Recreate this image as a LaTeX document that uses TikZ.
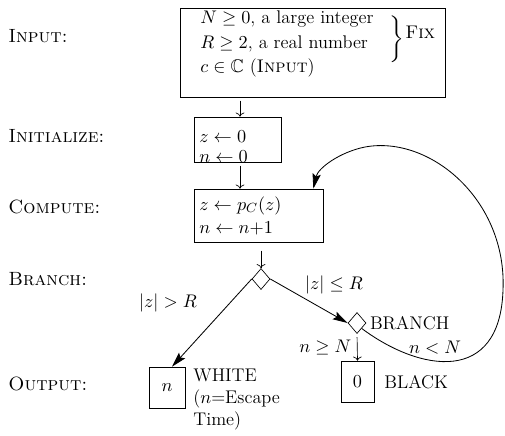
\documentclass[tikz,border=0pt]{standalone}
\usepackage{amssymb}
\usetikzlibrary{arrows.meta,shapes.geometric}

\begin{document}
\begin{tikzpicture}[
  x=0.6pt, y=-0.6pt,
  every node/.style={font=\fontsize{11}{14.5}\selectfont},
  stage/.style={anchor=base west, inner sep=0pt, font=\fontsize{11.5}{14}\selectfont},
  line/.style={anchor=base west, inner sep=0pt},
  box/.style={draw=black, rectangle, inner sep=0pt},
  test/.style={draw=black, diamond, minimum width=10.8pt, minimum height=12.6pt, inner sep=0pt},
  flow/.style={-{Stealth[length=9pt,width=5pt,inset=1.5pt]}, line width=0.5pt},
  down/.style={->, shorten <=2pt}
]
  \useasboundingbox (0,0) rectangle (505,435);

  % stage names
  \node[stage] (lin)   at (8, 42)  {\textsc{Input:}};
  \node[stage] (linit) at (8,142)  {\textsc{Initialize:}};
  \node[stage] (lcomp) at (8,213)  {\textsc{Compute:}};
  \node[stage] (lbr)   at (8,285)  {\textsc{Branch:}};
  \node[stage] (lout)  at (8,390)  {\textsc{Output:}};

  % input box
  \node[box, minimum width=159pt, minimum height=53.4pt] (input) at (312.5,52.5) {};
  \node[line] (fixn) at (200,23) {$N\geq 0$, a large integer};
  \node[line] (fixr) at (200,48) {$R\geq 2$, a real number};
  \node[line] (cin)  at (200,72) {$c\in\mathbb{C}$ (\textsc{Input})};
  \node[inner sep=0pt, yscale=0.85, transform shape] (brace) at (397,39) {$\Bigg\}$};
  \node[line] (fix)  at (405,38) {\textsc{Fix}};

  % iteration
  \node[box, minimum width=52.2pt, minimum height=27pt] (init) at (237.5,139.5) {};
  \node[line] (zinit) at (199,142) {$z\leftarrow 0$};
  \node[line] (ninit) at (199,162) {$n\leftarrow 0$};
  \node[box, minimum width=77.4pt, minimum height=31.8pt] (comp) at (258.5,215.5) {};
  \node[line] (zcomp) at (199,210) {$z\leftarrow p_C(z)$};
  \node[line] (ncomp) at (199,233) {$n\leftarrow n{+}1$};
  \node[test] (d1) at (261,279) {};
  \node[test] (d2) at (357,323) {};
  \node[anchor=west, inner sep=2pt] (br) at (d2.east) {BRANCH};

  % outputs
  \node[box, minimum width=21.6pt, minimum height=24.6pt] (white) at (167,387.5) {$n$};
  \node[box, minimum width=19.8pt, minimum height=24.6pt] (black) at (357.5,381.5) {$0$};
  \node[anchor=north west, align=left, inner sep=0pt, font=\fontsize{11}{13.2}\selectfont]
    (whitetxt) at (193,369) {WHITE\\($n$=Escape\\Time)};
  \node[anchor=west, inner sep=0pt] (blacktxt) at (384,382) {BLACK};

  % labels
  \node (gt) at (168,303) {$|z|>R$};
  \node (le) at (334,285) {$|z|\leq R$};
  \node (lt) at (435,348) {$n<N$};

  \draw[down] (input.south -| 240,0) -- (init.north -| 240,0);
  \draw[down] (init.south -| 240,0) -- (comp.north -| 240,0);
  \draw[down, shorten <=5pt] (comp.south -| d1.north) -- (d1.north);
  \draw[flow] (d1.west) -- ([xshift=3pt]white.north);
  \draw[flow] (d1.east) -- (d2.west);
  \draw[down] (d2.south) -- (black.north) node[midway, left] {$n\geq N$};
  \draw[flow] (d2.south east) .. controls (420,372) and (500,385) .. (503,290)
    .. controls (507,200) and (430,135) .. (365,147)
    .. controls (340,152) and (318,168) .. ([xshift=-6pt]comp.north east);
\end{tikzpicture}
\end{document}
